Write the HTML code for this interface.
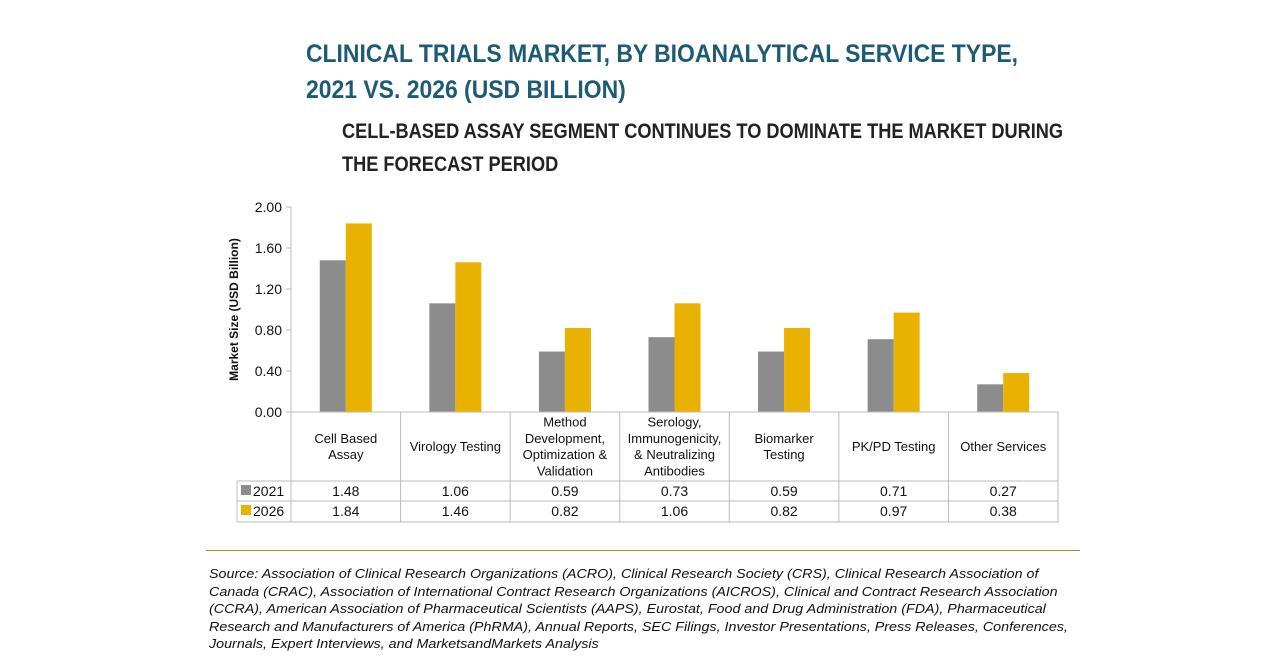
<!DOCTYPE html>
<html><head><meta charset="utf-8">
<style>
body{margin:0;width:1280px;height:670px;background:#fff;font-family:"Liberation Sans",sans-serif;overflow:hidden;position:relative}
.t{position:absolute;white-space:nowrap}
#title{left:306px;top:36px;font-size:25px;line-height:36px;color:#1d5b72;font-weight:bold;transform:scaleX(0.917);transform-origin:left}
#sub{left:342px;top:115px;font-size:21px;line-height:33px;color:#222;font-weight:bold;transform:scaleX(0.866);transform-origin:left}
#src{left:209px;top:565px;font-size:13px;line-height:17.5px;font-style:italic;color:#111;transform:scaleX(1.1);transform-origin:left}
#rule{position:absolute;left:206px;top:550px;width:874px;height:1px;background:#b08a30}
</style></head><body>
<div id="title" class="t">CLINICAL TRIALS MARKET, BY BIOANALYTICAL SERVICE TYPE,<br>2021 VS. 2026 (USD BILLION)</div>
<div id="sub" class="t">CELL-BASED ASSAY SEGMENT CONTINUES TO DOMINATE THE MARKET DURING<br>THE FORECAST PERIOD</div>
<svg id="chart" width="1280" height="670" style="position:absolute;left:0;top:0"></svg>
<div id="rule"></div>
<div id="src" class="t">Source: Association of Clinical Research Organizations (ACRO), Clinical Research Society (CRS), Clinical Research Association of<br>Canada (CRAC), Association of International Contract Research Organizations (AICROS), Clinical and Contract Research Association<br>(CCRA), American Association of Pharmaceutical Scientists (AAPS), Eurostat, Food and Drug Administration (FDA), Pharmaceutical<br>Research and Manufacturers of America (PhRMA), Annual Reports, SEC Filings, Investor Presentations, Press Releases, Conferences,<br>Journals, Expert Interviews, and MarketsandMarkets Analysis</div>
<script>
const categories=[["Cell Based","Assay"],["Virology Testing"],["Method","Development,","Optimization &","Validation"],["Serology,","Immunogenicity,","& Neutralizing","Antibodies"],["Biomarker","Testing"],["PK/PD Testing"],["Other Services"]];
const series2021=[1.48,1.06,0.59,0.73,0.59,0.71,0.27];
const series2026=[1.84,1.46,0.82,1.06,0.82,0.97,0.38];
const seriesNames=["2021","2026"];
const yTicks=[0,0.4,0.8,1.2,1.6,2.0];
const NS="http://www.w3.org/2000/svg";
const svg=document.getElementById('chart');
const X0=291,X1=1058,Y0=412,Y1=207,YMAX=2.0;
const cw=(X1-X0)/categories.length;
const y=v=>Y0-(v/YMAX)*(Y0-Y1);
const xc=i=>X0+cw*(i+0.5);
function mk(tag,a,txt){const e=document.createElementNS(NS,tag);for(const k in a)e.setAttribute(k,a[k]);if(txt!==undefined)e.textContent=txt;svg.appendChild(e);return e;}
const colors=["#8c8c8c","#e9b200"];
let ax=mk('line',{x1:X0,y1:Y1,x2:X0,y2:522,stroke:'#bbb'});


yTicks.forEach(v=>{
 const t=mk('text',{x:X0-9,y:y(v)+5,'text-anchor':'end','font-size':14,fill:'#111'},v.toFixed(2));
 
 
 mk('line',{x1:X0-5,x2:X0,y1:y(v),y2:y(v),stroke:'#bbb'});
});
const yt=mk('text',{x:0,y:0,'font-size':12,'font-weight':'bold',fill:'#111','text-anchor':'middle',transform:`translate(238,${(Y0+Y1)/2}) rotate(-90)`},'Market Size (USD Billion)');


const bw=26;
[series2021,series2026].forEach((s,si)=>{
 s.forEach((v,i)=>{
  const r=mk('rect',{x:xc(i)-bw+si*bw,y:y(v),width:bw,height:Y0-y(v),fill:colors[si]});
  
  
 });
});
const rows=[481,501,522];
mk('line',{x1:X0,x2:X1,y1:Y0,y2:Y0,stroke:'#bbb'});
rows.forEach(r=>mk('line',{x1:237,x2:X1,y1:r,y2:r,stroke:'#bbb'}));
mk('line',{x1:237,x2:237,y1:481,y2:522,stroke:'#bbb'});
for(let i=0;i<=categories.length;i++)mk('line',{x1:X0+cw*i,x2:X0+cw*i,y1:Y0,y2:522,stroke:'#bbb'});
categories.forEach((c,i)=>{
 const top=446-(c.length-1)*8.2;
 c.forEach((ln,j)=>{
  const t=mk('text',{x:xc(i),y:top+j*16.4+5,'text-anchor':'middle','font-size':13,fill:'#111'},ln);
  
  
 });
});
[series2021,series2026].forEach((s,si)=>{
 const cy=rows[si]+15;
 const k=mk('rect',{x:241,y:cy-11,width:10,height:10,fill:colors[si]});
 
 
 const l=mk('text',{x:253,y:cy,'font-size':14,fill:'#111'},seriesNames[si]);
 
 
 s.forEach((v,i)=>{
  const t=mk('text',{x:xc(i),y:cy,'text-anchor':'middle','font-size':14,fill:'#111'},v.toFixed(2));
  
  
 });
});
</script>
</body></html>
